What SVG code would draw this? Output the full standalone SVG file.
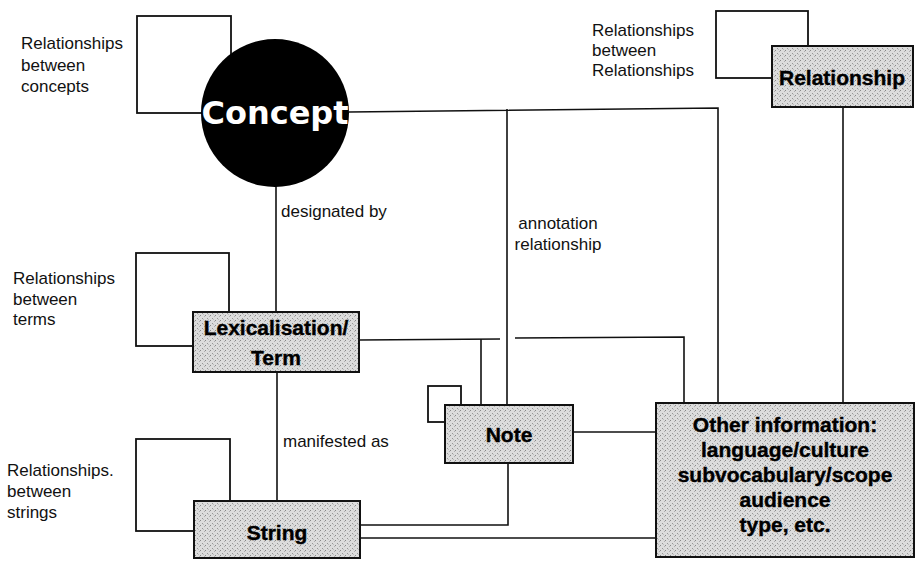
<svg xmlns="http://www.w3.org/2000/svg" width="916" height="561" viewBox="0 0 916 561">
<defs>
<pattern id="stip" width="5" height="5" patternUnits="userSpaceOnUse">
<rect width="5" height="5" fill="#dcdcdc"/>
<rect x="0" y="0" width="1" height="1" fill="#888"/>
<rect x="2" y="3" width="1" height="1" fill="#979797"/>
<rect x="4" y="1" width="1" height="1" fill="#b0b0b0"/>
<rect x="3" y="4" width="1" height="1" fill="#bcbcbc"/>
</pattern>
<style>
.ln{fill:none;stroke:#111;stroke-width:1.6}
.loop{fill:none;stroke:#111;stroke-width:1.8}
.box{fill:url(#stip);stroke:#111;stroke-width:2}
.lbl{font-family:"Liberation Sans",Arial,sans-serif;font-size:17px;fill:#111}
.bt{font-family:"Liberation Sans",Arial,sans-serif;font-size:21px;font-weight:bold;fill:#000;stroke:#000;stroke-width:0.4;text-anchor:middle}
</style>
</defs>
<rect width="916" height="561" fill="#fff"/>

<g id="connectors">
<polyline class="ln" points="349,112 718,108 718,403"/>
<line class="ln" x1="507" y1="109" x2="507" y2="405"/>
<line class="ln" x1="843" y1="107" x2="843" y2="403"/>
<line class="ln" x1="276" y1="186" x2="276" y2="312"/>
<line class="ln" x1="277" y1="372" x2="277" y2="501"/>
<line class="ln" x1="359" y1="340" x2="500" y2="339"/>
<line class="ln" x1="481" y1="339" x2="481" y2="405"/>
<polyline class="ln" points="515,338 684,337 684,403"/>
<line class="ln" x1="573" y1="432" x2="656" y2="432"/>
<polyline class="ln" points="360,525 508,525 508,463"/>
<line class="ln" x1="360" y1="538" x2="656" y2="538"/>
</g>

<g id="labels">
<text class="lbl" x="21" y="49">Relationships</text>
<text class="lbl" x="21" y="71">between</text>
<text class="lbl" x="21" y="92">concepts</text>
<text class="lbl" x="592" y="36">Relationships</text>
<text class="lbl" x="592" y="56">between</text>
<text class="lbl" x="592" y="76">Relationships</text>
<text class="lbl" x="13" y="284">Relationships</text>
<text class="lbl" x="13" y="305">between</text>
<text class="lbl" x="13" y="325">terms</text>
<text class="lbl" x="7" y="476">Relationships.</text>
<text class="lbl" x="7" y="497">between</text>
<text class="lbl" x="7" y="518">strings</text>
<text class="lbl" x="281" y="217">designated by</text>
<text class="lbl" x="283" y="447">manifested as</text>
<text class="lbl" x="558" y="229" text-anchor="middle">annotation</text>
<text class="lbl" x="558" y="250" text-anchor="middle">relationship</text>
</g>

<g id="concept">
<rect class="loop" x="137" y="16" width="94" height="97"/>
<circle cx="275" cy="113" r="74" fill="#000"/>
<text x="275" y="124" font-family="'DejaVu Sans',Verdana,sans-serif" font-size="32" font-weight="bold" fill="#fff" text-anchor="middle">Concept</text>
</g>

<g id="relationship">
<rect class="loop" x="716" y="11" width="92" height="67"/>
<rect class="box" x="772" y="46" width="141" height="61"/>
<text class="bt" x="842" y="85">Relationship</text>
</g>

<g id="lexicalisation">
<rect class="loop" x="136" y="253" width="93" height="93"/>
<rect class="box" x="193" y="312" width="166" height="60"/>
<text class="bt" x="276" y="335">Lexicalisation/</text>
<text class="bt" x="276" y="365">Term</text>
</g>

<g id="note">
<rect class="loop" x="428" y="386" width="33" height="36"/>
<rect class="box" x="445" y="405" width="128" height="58"/>
<text class="bt" x="509" y="442">Note</text>
</g>

<g id="string">
<rect class="loop" x="136" y="439" width="94" height="92"/>
<rect class="box" x="194" y="501" width="166" height="57"/>
<text class="bt" x="277" y="540">String</text>
</g>

<g id="other">
<rect class="box" x="656" y="403" width="258" height="154"/>
<text class="bt" x="785" y="432">Other information:</text>
<text class="bt" x="785" y="457">language/culture</text>
<text class="bt" x="785" y="482">subvocabulary/scope</text>
<text class="bt" x="785" y="507">audience</text>
<text class="bt" x="785" y="532">type, etc.</text>
</g>
</svg>
